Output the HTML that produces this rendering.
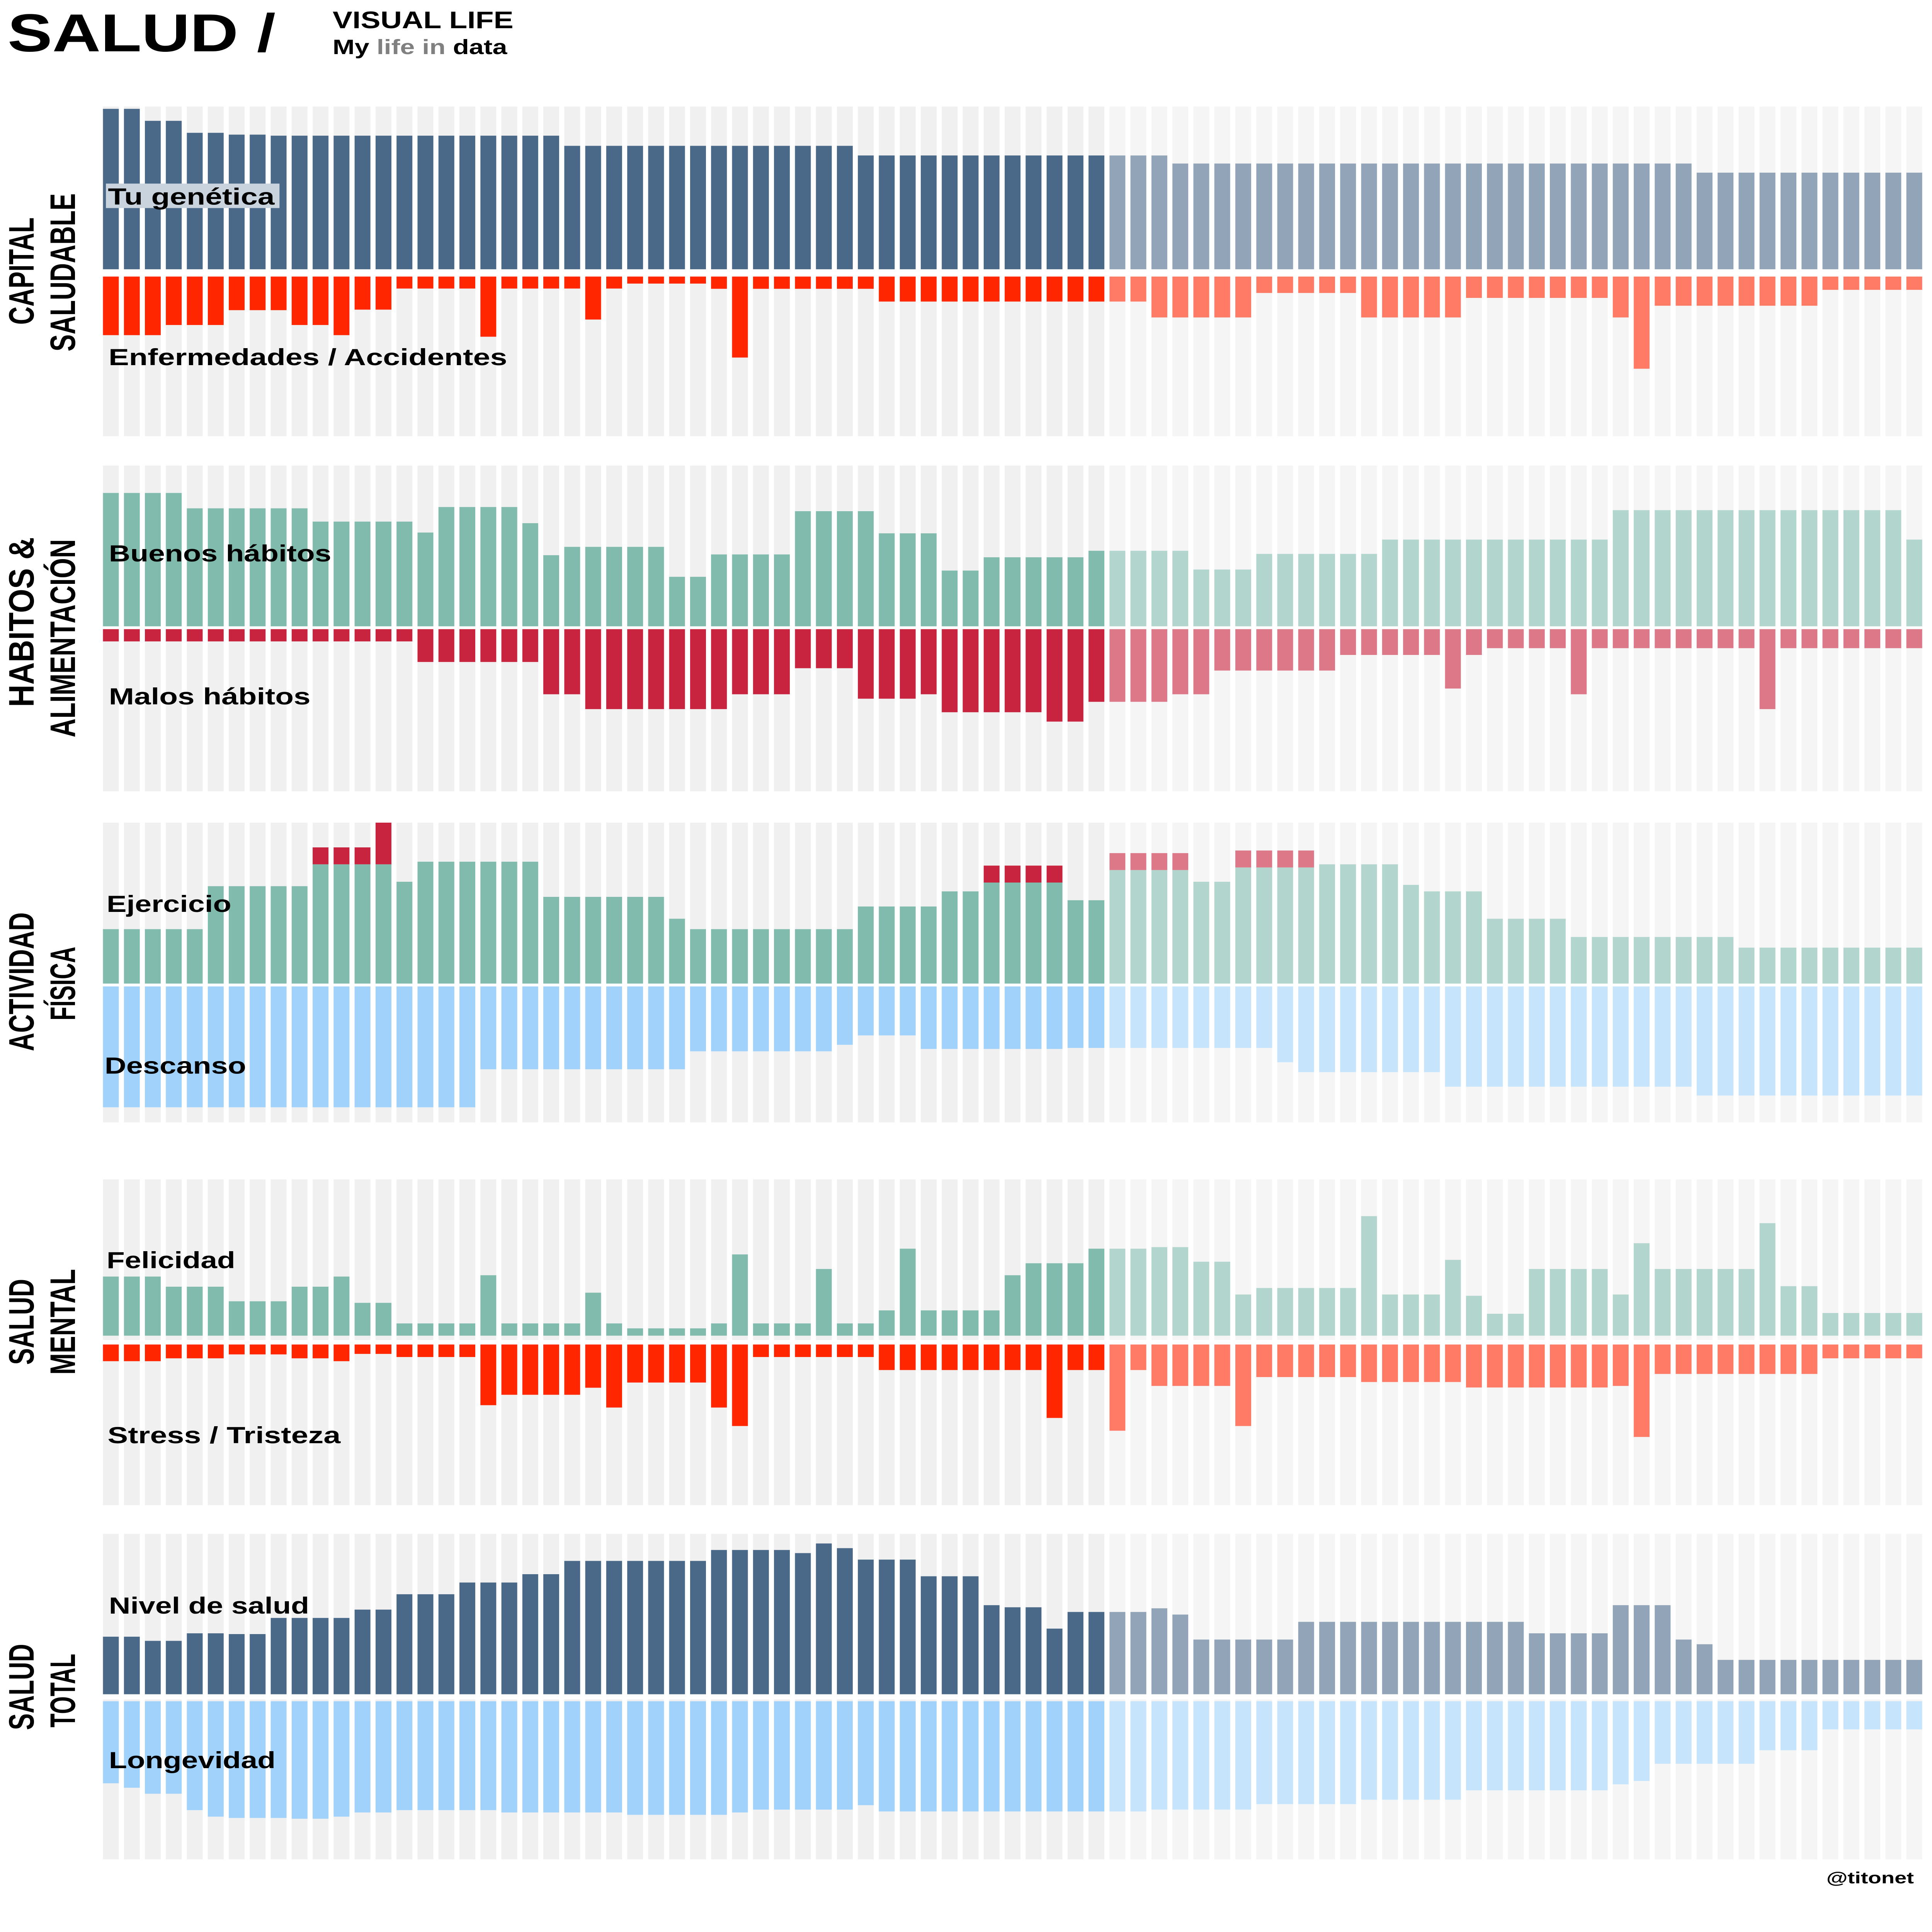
<!DOCTYPE html>
<html><head><meta charset="utf-8"><title>SALUD / Visual Life</title>
<style>
html,body{margin:0;padding:0;background:#fff;width:100%;height:100%;overflow:hidden;}
svg{display:block;width:100vw;height:100vh;}
text{font-family:"Liberation Sans",Arial,sans-serif;font-weight:bold;fill:#000;}
</style></head>
<body>
<svg id="chart" xmlns="http://www.w3.org/2000/svg" viewBox="0 0 5855 7419" preserveAspectRatio="none">
<rect x="0" y="0" width="5855" height="7419" fill="#fff"/>
<text x="23" y="197" font-size="205" textLength="812" lengthAdjust="spacingAndGlyphs">SALUD /</text>
<text x="1008" y="108" font-size="92" textLength="548" lengthAdjust="spacingAndGlyphs">VISUAL LIFE</text>
<text x="1008" y="208" font-size="80" textLength="529" lengthAdjust="spacingAndGlyphs">My <tspan fill="#808080">life in</tspan> data</text>
<g id="bars"></g>
<g id="labels">
<rect x="321" y="705" width="526" height="94" fill="#c9d3dd"/>
<text x="327" y="786" font-size="90" textLength="505" lengthAdjust="spacingAndGlyphs">Tu genética</text>
<text x="329" y="1402" font-size="90" textLength="1208" lengthAdjust="spacingAndGlyphs">Enfermedades / Accidentes</text>
<text x="330" y="2156" font-size="90" textLength="674" lengthAdjust="spacingAndGlyphs">Buenos hábitos</text>
<text x="330" y="2705" font-size="90" textLength="611" lengthAdjust="spacingAndGlyphs">Malos hábitos</text>
<text x="323" y="3502" font-size="90" textLength="378" lengthAdjust="spacingAndGlyphs">Ejercicio</text>
<text x="317" y="4123" font-size="90" textLength="429" lengthAdjust="spacingAndGlyphs">Descanso</text>
<text x="323" y="4870" font-size="90" textLength="390" lengthAdjust="spacingAndGlyphs">Felicidad</text>
<text x="326" y="5542" font-size="90" textLength="706" lengthAdjust="spacingAndGlyphs">Stress / Tristeza</text>
<text x="330" y="6196" font-size="90" textLength="607" lengthAdjust="spacingAndGlyphs">Nivel de salud</text>
<text x="330" y="6790" font-size="90" textLength="505" lengthAdjust="spacingAndGlyphs">Longevidad</text>

<text transform="translate(102,1041) rotate(-90)" text-anchor="middle" font-size="108" textLength="412" lengthAdjust="spacingAndGlyphs">CAPITAL</text>
<text transform="translate(227,1046) rotate(-90)" text-anchor="middle" font-size="108" textLength="607" lengthAdjust="spacingAndGlyphs">SALUDABLE</text>
<text transform="translate(102,2389) rotate(-90)" text-anchor="middle" font-size="108" textLength="652" lengthAdjust="spacingAndGlyphs">HABITOS &amp;</text>
<text transform="translate(227,2451) rotate(-90)" text-anchor="middle" font-size="108" textLength="761" lengthAdjust="spacingAndGlyphs">ALIMENTACIÓN</text>
<text transform="translate(102,3770) rotate(-90)" text-anchor="middle" font-size="108" textLength="533" lengthAdjust="spacingAndGlyphs">ACTIVIDAD</text>
<text transform="translate(227,3777) rotate(-90)" text-anchor="middle" font-size="108" textLength="283" lengthAdjust="spacingAndGlyphs">FÍSICA</text>
<text transform="translate(102,5076) rotate(-90)" text-anchor="middle" font-size="108" textLength="330" lengthAdjust="spacingAndGlyphs">SALUD</text>
<text transform="translate(227,5076) rotate(-90)" text-anchor="middle" font-size="108" textLength="406" lengthAdjust="spacingAndGlyphs">MENTAL</text>
<text transform="translate(102,6478) rotate(-90)" text-anchor="middle" font-size="108" textLength="331" lengthAdjust="spacingAndGlyphs">SALUD</text>
<text transform="translate(227,6492) rotate(-90)" text-anchor="middle" font-size="108" textLength="283" lengthAdjust="spacingAndGlyphs">TOTAL</text>

<text x="5800" y="7232" text-anchor="end" font-size="62" textLength="265" lengthAdjust="spacingAndGlyphs">@titonet</text>
</g>
</svg>
<script>
// ---- data (bar heights, in chart units) ----
function rl(runs){var a=[];for(var r=0;r<runs.length;r++){for(var j=0;j<runs[r][0];j++)a.push(runs[r][1]);}return a;}
const genetica = rl([[2,616],[2,570],[2,524],[2,517],[14,513],[14,474],[15,437],[25,406],[11,371]]);
const enfermedades = rl([[3,225],[3,186],[3,129],[2,186],[1,225],[2,127],[4,46],[1,231],[4,46],[1,165],[1,46],[4,27],[1,47],[1,311],[6,47],[13,96],[5,157],[5,63],[5,157],[7,82],[1,157],[1,354],[8,112],[5,51]]);
const buenosHabitos = rl([[4,512],[6,453],[5,402],[1,360],[4,458],[1,396],[1,273],[5,305],[2,190],[4,276],[4,442],[3,357],[2,214],[5,265],[5,290],[3,218],[6,278],[11,333],[14,446],[1,333]]);
const malosHabitos = rl([[15,47],[6,126],[2,250],[7,307],[3,250],[3,150],[3,267],[1,250],[5,319],[2,355],[4,279],[2,250],[6,159],[5,99],[1,228],[1,99],[4,73],[1,250],[8,73],[1,307],[7,73]]);
const ejercicio = rl([[5,209],[5,374],[4,458],[1,391],[6,468],[6,333],[1,249],[8,209],[4,296],[2,354],[4,388],[2,320],[4,436],[2,391],[4,446],[4,458],[1,379],[3,354],[4,249],[8,179],[9,138]]);
const ejercicioExceso = rl([[10,0],[3,65],[1,160],[28,0],[4,65],[2,0],[4,65],[2,0],[4,65],[29,0]]);
const descanso = rl([[18,464],[10,318],[7,249],[1,224],[3,188],[7,240],[10,236],[1,291],[7,329],[12,385],[11,419]]);
const felicidad = rl([[3,227],[3,188],[3,132],[2,188],[1,227],[2,126],[4,47],[1,232],[4,47],[1,165],[1,47],[4,28],[1,47],[1,312],[3,47],[1,256],[2,47],[1,97],[1,334],[4,97],[1,232],[3,278],[3,334],[2,340],[2,284],[1,158],[5,183],[1,459],[3,158],[1,291],[1,153],[2,84],[4,256],[1,158],[1,355],[5,256],[1,432],[2,190],[5,87]]);
const stress = rl([[3,64],[3,53],[3,38],[2,53],[1,64],[2,36],[4,48],[1,233],[4,193],[1,166],[1,242],[4,146],[1,242],[1,313],[6,48],[8,98],[1,282],[2,98],[1,331],[1,98],[4,159],[1,313],[5,125],[5,144],[7,165],[1,159],[1,355],[8,113],[5,53]]);
const nivelSalud = rl([[2,221],[2,205],[2,234],[2,231],[4,293],[2,325],[3,384],[3,429],[2,461],[7,512],[4,554],[1,542],[1,579],[1,561],[3,517],[3,453],[1,342],[2,334],[1,252],[4,316],[1,330],[1,306],[5,210],[11,278],[4,234],[3,342],[1,210],[1,192],[10,132]]);
const longevidad = rl([[1,315],[1,332],[2,355],[1,418],[1,443],[3,448],[2,451],[1,443],[2,427],[5,418],[6,427],[5,436],[1,427],[5,416],[1,399],[13,423],[5,416],[5,395],[5,378],[7,342],[1,319],[1,306],[5,240],[3,188],[5,108]]);
const DARK_COUNT = 48;

// ---- layout ----
const N = genetica.length;
const X0 = 312, PITCH = 63.55, BW = 48;
function xScale(i){ return X0 + i * PITCH; }
function hScale(v){ return v * 1.0; }
const NS = "http://www.w3.org/2000/svg";
const layer = document.getElementById("bars");
function rect(x,y,w,h,fill){
  var r = document.createElementNS(NS,"rect");
  r.setAttribute("x",x.toFixed(1)); r.setAttribute("y",y.toFixed(1));
  r.setAttribute("width",w); r.setAttribute("height",Math.max(0,h).toFixed(1));
  r.setAttribute("fill",fill);
  layer.appendChild(r);
  return r;
}
const NAVY=["#4a6989","#91a4b8"], RED=["#ff2600","#ff7b66"], GREEN=["#80bbad","#b2d5cd"],
      CRIM=["#c8243f","#dd7888"], BLUE=["#a0d2fb","#c6e5fd"], BG=["#f0f0f0","#f5f5f5"];
const panels = [
  {key:"capital", top:409, base:1034, gapTop:1034, gapBot:1062, neg0:1062, bottom:1675, pos:genetica, neg:enfermedades, cap:null, pc:NAVY, nc:RED},
  {key:"habitos", top:1788, base:2405, gapTop:2405, gapBot:2416, neg0:2416, bottom:3039, pos:buenosHabitos, neg:malosHabitos, cap:null, pc:GREEN, nc:CRIM},
  {key:"actividad", top:3159, base:3777, gapTop:3777, gapBot:3788, neg0:3788, bottom:4310, pos:ejercicio, neg:descanso, cap:ejercicioExceso, pc:GREEN, nc:BLUE},
  {key:"mental", top:4529, base:5129, gapTop:5146, gapBot:5163, neg0:5163, bottom:5780, pos:felicidad, neg:stress, cap:null, pc:GREEN, nc:RED},
  {key:"total", top:5890, base:6506, gapTop:6506, gapBot:6526, neg0:6533, bottom:7140, pos:nivelSalud, neg:longevidad, cap:null, pc:NAVY, nc:BLUE}
];
panels.forEach(function(p){
  for (var i=0;i<N;i++){
    var s = i < DARK_COUNT ? 0 : 1;
    var x = xScale(i);
    var b1 = rect(x, p.top, BW, p.gapTop - p.top, BG[s]);
    
    
    var b2 = rect(x, p.gapBot, BW, p.bottom - p.gapBot, BG[s]);
    
    
    var hp = hScale(p.pos[i]);
    var bp = rect(x, p.base - hp, BW, hp, p.pc[s]);
    
    
    if (p.cap && p.cap[i] > 0){
      var hc = hScale(p.cap[i]);
      var bc = rect(x, p.base - hp - hc, BW, hc, CRIM[s]);
      
      
    }
    var hn = hScale(p.neg[i]);
    var bn = rect(x, p.neg0, BW, hn, p.nc[s]);
    
    
  }
});
</script>
</body></html>
